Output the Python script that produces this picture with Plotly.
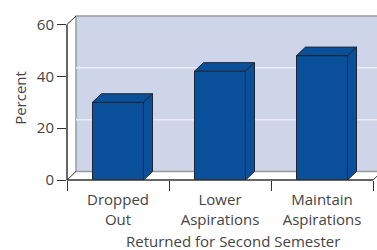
import plotly.graph_objects as go

# ---- data ----
categories = ["Dropped<br>Out", "Lower<br>Aspirations", "Maintain<br>Aspirations"]
percent = [30, 42, 48]
y_ticks = [0, 20, 40, 60]
x_title = "Returned for Second Semester"
y_title = "Percent"

# ---- styling / geometry ----
W, H = 377, 250
ML, MR, MT, MB = 67, 0, 16, 70
plot_w = W - ML - MR
plot_h = H - MT - MB
PX_PER_CAT = 102.0
XMIN = -0.5
XMAX = XMIN + plot_w / PX_PER_CAT
DEPTH_X_PX, DEPTH_Y_PX = 9.0, 8.5
YTOP = 60
YMAX = YTOP * plot_h / (plot_h - DEPTH_Y_PX)
DX = DEPTH_X_PX / PX_PER_CAT
DY = YMAX - YTOP
BAR_W = 0.5

BAR_COLOR = "#0a4f99"
EDGE = "#1e2533"
WALL = "#cfd5e8"
GRID = "#e9ecf6"
AXIS = "#333333"
TEXT = "#444444"
FONT = "Open Sans"


def px(x):
    return (x - XMIN) / (XMAX - XMIN)


def py(y):
    return y / YMAX


fig = go.Figure()
fig.add_trace(go.Bar(
    x=categories, y=percent, width=BAR_W,
    marker=dict(color=BAR_COLOR, line=dict(color=EDGE, width=1)),
    hoverinfo="skip",
))

shapes = []
# back wall
shapes.append(dict(type="rect", xref="paper", yref="paper", layer="below",
                   x0=px(XMIN + DX), x1=1.05, y0=py(DY), y1=1,
                   fillcolor=WALL, line=dict(color="#9a9a9a", width=1.5)))
# gridlines on back wall
for v in y_ticks[1:-1]:
    shapes.append(dict(type="line", xref="paper", yref="paper", layer="below",
                       x0=px(XMIN + DX), x1=1.05, y0=py(v + DY), y1=py(v + DY),
                       line=dict(color=GRID, width=1.5)))
# floor / side edges
shapes.append(dict(type="line", xref="paper", yref="paper", layer="below",
                   x0=px(XMIN), y0=0, x1=px(XMIN + DX), y1=py(DY),
                   line=dict(color=AXIS, width=1)))
shapes.append(dict(type="line", xref="paper", yref="paper", layer="below",
                   x0=px(XMIN + len(categories)), y0=0,
                   x1=px(XMIN + len(categories) + DX), y1=py(DY),
                   line=dict(color=AXIS, width=1)))
shapes.append(dict(type="line", xref="paper", yref="paper", layer="above",
                   x0=px(XMIN), y0=py(YTOP), x1=px(XMIN + DX), y1=1,
                   line=dict(color=AXIS, width=1)))
# axis lines
shapes.append(dict(type="line", xref="paper", yref="paper", layer="above",
                   x0=px(XMIN), y0=0, x1=px(XMIN), y1=py(YTOP),
                   line=dict(color=AXIS, width=1.5)))
shapes.append(dict(type="line", xref="paper", yref="paper", layer="above",
                   x0=px(XMIN), y0=0, x1=px(XMIN + len(categories)), y1=0,
                   line=dict(color=AXIS, width=1.5)))

# 3D faces of bars (top and side), from data values
for i, v in enumerate(percent):
    l = i - BAR_W / 2
    r = i + BAR_W / 2
    top = f"M {l} {v} L {l + DX} {v + DY} L {r + DX} {v + DY} L {r} {v} Z"
    side = f"M {r} 0 L {r} {v} L {r + DX} {v + DY} L {r + DX} {DY} Z"
    for p in (top, side):
        shapes.append(dict(type="path", xref="x", yref="y", layer="above", path=p,
                           fillcolor=BAR_COLOR, line=dict(color=EDGE, width=1)))

fig.update_layout(
    width=W, height=H,
    margin=dict(l=ML, r=MR, t=MT, b=MB),
    paper_bgcolor="white", plot_bgcolor="white",
    showlegend=False,
    font=dict(family=FONT, size=15, color=TEXT),
    shapes=shapes,
    xaxis=dict(type="category", range=[XMIN, XMAX], tickson="boundaries",
               ticks="outside", ticklen=10, tickwidth=1.2, tickcolor=AXIS,
               ticklabelstandoff=9,
               showline=False, showgrid=False, zeroline=False,
               tickfont=dict(size=15, color=TEXT)),
    yaxis=dict(range=[0, YMAX], tickvals=y_ticks, ticks="outside", ticklen=9,
               tickwidth=1.2, tickcolor=AXIS, showline=False, showgrid=False,
               zeroline=False, tickfont=dict(size=15, color=TEXT),
               title=dict(text=y_title, standoff=6, font=dict(size=15, color=TEXT))),
    annotations=[dict(text=x_title, xref="paper", yref="paper",
                      x=(233 - ML) / plot_w, y=-(241 - (MT + plot_h)) / plot_h,
                      xanchor="center", yanchor="middle", showarrow=False,
                      font=dict(size=15, color=TEXT))],
)

fig.write_html("out.html", config={"displayModeBar": False},
               post_script="document.body.style.margin='0';document.body.style.overflow='hidden';")
